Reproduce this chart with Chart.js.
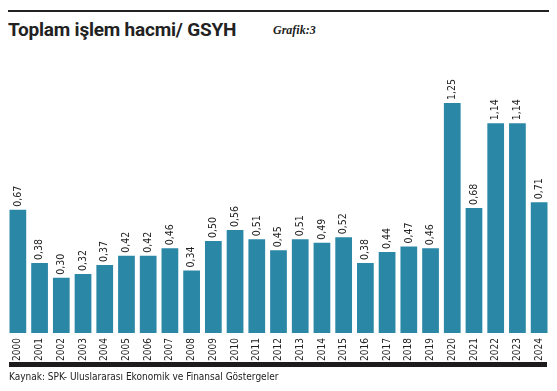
<!DOCTYPE html>
<html lang="tr">
<head>
<meta charset="UTF-8">
<title>Toplam işlem hacmi/ GSYH</title>
<script src="https://cdn.jsdelivr.net/npm/chart.js"></script>
<style>
  body { margin: 0; background: #fff; }
  #wrap { position: relative; width: 557px; height: 391px; overflow: hidden; }
  #rule { position: absolute; left: 8px; top: 10px; width: 541px; height: 2px; background: #222; }
  #title { position: absolute; left: 8px; top: 18px; font: bold 19px "Roboto", sans-serif; color: #222; letter-spacing: -0.2px; }
  #tag { position: absolute; left: 273px; top: 23px; font: italic bold 12px "Liberation Serif", serif; color: #222; }
  #base { position: absolute; left: 9px; top: 362px; width: 538px; height: 5px; background: #1e1b1c; }
  #source { position: absolute; left: 9px; top: 371px; font: 10px "Liberation Sans Narrow", "DejaVu Sans Condensed", sans-serif; color: #222; }
  canvas { position: absolute; left: 0; top: 0; }
</style>
</head>
<body>
<div id="wrap">
  <div id="rule"></div>
  <div id="title">Toplam işlem hacmi/ GSYH</div>
  <div id="tag">Grafik:3</div>
  <canvas id="chart" width="557" height="391"></canvas>
  <div id="base"></div>
  <div id="source">Kaynak: SPK- Uluslararası Ekonomik ve Finansal Göstergeler</div>
</div>
<script>
  const years = ['2000','2001','2002','2003','2004','2005','2006','2007','2008','2009','2010','2011','2012',
                 '2013','2014','2015','2016','2017','2018','2019','2020','2021','2022','2023','2024'];
  const ratio = [0.67,0.38,0.30,0.32,0.37,0.42,0.42,0.46,0.34,0.50,0.56,0.51,0.45,
                 0.51,0.49,0.52,0.38,0.44,0.47,0.46,1.25,0.68,1.14,1.14,0.71];

  const narrow = '"Liberation Sans Narrow", "DejaVu Sans Condensed", sans-serif';

  // value labels, rotated, above each bar
  const valueLabels = {
    id: 'valueLabels',
    afterDatasetsDraw(chart) {
      const ctx = chart.ctx;
      const meta = chart.getDatasetMeta(0);
      ctx.save();
      ctx.fillStyle = '#222';
      ctx.font = '10.5px ' + narrow;
      ctx.textAlign = 'left';
      ctx.textBaseline = 'middle';
      meta.data.forEach((bar, i) => {
        ctx.save();
        ctx.translate(bar.x, bar.y - 3);
        ctx.rotate(-Math.PI / 2);
        ctx.fillText(ratio[i].toFixed(2).replace('.', ','), 0, 0);
        ctx.restore();
      });
      ctx.restore();
    }
  };

  new Chart(document.getElementById('chart'), {
    type: 'bar',
    data: {
      labels: years,
      datasets: [{
        data: ratio,
        backgroundColor: '#2a87a6',
        barPercentage: 0.77,
        categoryPercentage: 1
      }]
    },
    options: {
      responsive: false,
      animation: false,
      layout: { padding: { top: 57, left: 7, right: 7, bottom: 24 } },
      plugins: { legend: { display: false }, tooltip: { enabled: false } },
      scales: {
        x: {
          grid: { display: false, drawTicks: false },
          border: { display: false },
          ticks: {
            minRotation: 90, maxRotation: 90, padding: 5,
            color: '#222',
            font: { family: narrow, size: 10 }
          },
          afterFit(scale) { scale.height = 34; }
        },
        y: { display: false, min: 0, max: 1.5 }
      }
    },
    plugins: [valueLabels]
  });
</script>
</body>
</html>
